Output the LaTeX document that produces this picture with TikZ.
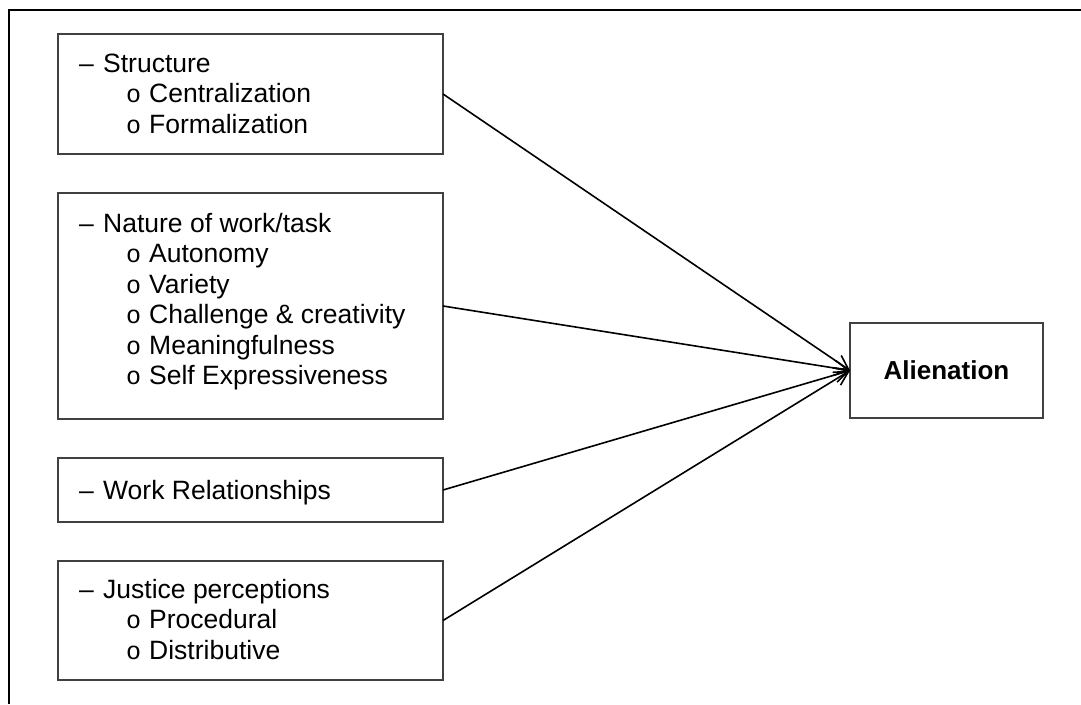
\documentclass[tikz,border=0pt]{standalone}
\usepackage{fontspec}
\setmainfont{Liberation Sans}
\newfontfamily\bulletfont{Liberation Mono}
\usetikzlibrary{arrows.meta}
\tikzset{
  box/.style={draw=black!75, line width=1.5pt, rectangle, inner sep=0pt, outer sep=0pt, anchor=north west},
  txt/.style={anchor=base west, inner sep=0pt, font=\fontsize{26.5}{30}\selectfont},
  bul/.style={anchor=base west, inner sep=0pt, font=\fontsize{25}{30}\bulletfont},
  link/.style={line width=1.6pt, -{Straight Barb[length=14pt,width=15pt,line width=1.6pt]}},
  frame/.style={line width=2.2pt, black}
}
\begin{document}
\begin{tikzpicture}[x=1pt,y=-1pt]
\useasboundingbox (0,0) rectangle (1081,704);
\coordinate (ftl) at (9,10);
\coordinate (ftr) at (1081,10);
\coordinate (fbl) at (9,704);
\draw[frame] (ftr) -- (ftl) -- (fbl);

% boxes
\node[box, minimum width=385pt, minimum height=120pt] (b1) at (58,34) {};
\node[box, minimum width=385pt, minimum height=226pt] (b2) at (58,193) {};
\node[box, minimum width=385pt, minimum height=64pt] (b3) at (58,458) {};
\node[box, minimum width=385pt, minimum height=119pt] (b4) at (58,561) {};
\node[box, minimum width=193pt, minimum height=95pt] (al) at (850,323) {};
\node[anchor=center, inner sep=0pt, font=\fontsize{26}{30}\selectfont\bfseries] (alt) at (al.center) {Alienation};

% box 1 text
\node[txt] (d1) at (79,72) {–};
\node[txt] (t1) at (103,72) {Structure};
\node[bul] (o11) at (126,102.5) {o};
\node[txt] (t11) at (149,102.5) {Centralization};
\node[bul] (o12) at (126,133) {o};
\node[txt] (t12) at (149,133) {Formalization};

% box 2 text
\node[txt] (d2) at (79,232) {–};
\node[txt] (t2) at (103,232) {Nature of work/task};
\node[bul] (o21) at (126,262.5) {o};
\node[txt] (t21) at (149,262.5) {Autonomy};
\node[bul] (o22) at (126,293) {o};
\node[txt] (t22) at (149,293) {Variety};
\node[bul] (o23) at (126,323.5) {o};
\node[txt] (t23) at (149,323.5) {Challenge \& creativity};
\node[bul] (o24) at (126,354) {o};
\node[txt] (t24) at (149,354) {Meaningfulness};
\node[bul] (o25) at (126,384.5) {o};
\node[txt] (t25) at (149,384.5) {Self Expressiveness};

% box 3 text
\node[txt] (d3) at (79,499) {–};
\node[txt] (t3) at (103,499) {Work Relationships};

% box 4 text
\node[txt] (d4) at (79,598) {–};
\node[txt] (t4) at (103,598) {Justice perceptions};
\node[bul] (o41) at (126,628.5) {o};
\node[txt] (t41) at (149,628.5) {Procedural};
\node[bul] (o42) at (126,659) {o};
\node[txt] (t42) at (149,659) {Distributive};

% connectors
\draw[link] (b1.east) -- (al.west);
\draw[link] (b2.east) -- (al.west);
\draw[link] (b3.east) -- (al.west);
\draw[link] (b4.east) -- (al.west);
\end{tikzpicture}
\end{document}
